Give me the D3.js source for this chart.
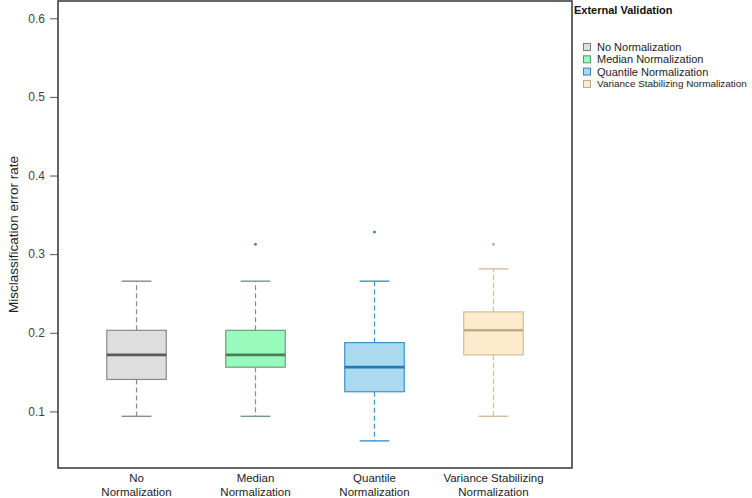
<!DOCTYPE html>
<html><head><meta charset="utf-8">
<script src="https://cdn.jsdelivr.net/npm/d3@7"></script>
<style>body{margin:0;background:#fff}svg{display:block}text{font-family:"Liberation Sans",Arial,sans-serif}</style>
</head><body><svg id="c" width="752" height="498"></svg>
<script>
const categories = ["No Normalization","Median Normalization","Quantile Normalization","Variance Stabilizing Normalization"];
const axisLabels = [["No","Normalization"],["Median","Normalization"],["Quantile","Normalization"],["Variance Stabilizing","Normalization"]];
const whiskerLow = [0.09375,0.09375,0.0625,0.09375];
const q1 = [0.140625,0.15625,0.125,0.171875];
const median = [0.171875,0.171875,0.15625,0.203125];
const q3 = [0.203125,0.203125,0.1875,0.2265625];
const whiskerHigh = [0.265625,0.265625,0.265625,0.28125];
const outliers = [[],[0.3125],[0.328125],[0.3125]];
const yTicks = [0.1,0.2,0.3,0.4,0.5,0.6];
const fills = ["#dedede","#98fbbc","#abd9ef","#fdebcd"];
const strokes = ["#8a8a8a","#6f9c7e","#3a93c8","#d2bd97"];
const medCols = ["#5a5a5a","#4f7a5e","#1f7bb8","#c2ab83"];

const svg = d3.select("#c");
const L=58,R=572,T=1,B=468;
const x = d3.scaleLinear().domain([0.34,4.66]).range([L,R]);
const y = d3.scaleLinear().domain([0.028,0.622]).range([B,T]);
const bw = 0.5*(x(1)-x(0)), cw = bw/2;

const ya = svg.append("g").attr("transform",`translate(${L},0)`)
  .call(d3.axisLeft(y).tickValues(yTicks).tickSize(8).tickPadding(5).tickFormat(d3.format(".1f")));
ya.select(".domain").remove();
ya.selectAll("line").attr("stroke","#555");
ya.selectAll("text").attr("font-size",12).attr("fill","#444").attr("font-family","Liberation Sans, Arial, sans-serif");

svg.append("text").attr("transform",`translate(13,${(T+B)/2}) rotate(-90)`)
  .attr("text-anchor","middle").attr("dominant-baseline","central").attr("font-size",13.5).attr("fill","#222")
  .text("Misclassification error rate");

const g = svg.append("g");
categories.forEach((c,i)=>{
  const cx = x(i+1);
  g.append("line").attr("x1",cx).attr("x2",cx).attr("y1",y(q3[i])).attr("y2",y(whiskerHigh[i]))
    .attr("stroke",strokes[i]).attr("stroke-width",1.2).attr("stroke-dasharray","5,3");
  g.append("line").attr("x1",cx).attr("x2",cx).attr("y1",y(q1[i])).attr("y2",y(whiskerLow[i]))
    .attr("stroke",strokes[i]).attr("stroke-width",1.2).attr("stroke-dasharray","5,3");
  [whiskerHigh[i],whiskerLow[i]].forEach(v=>{
    g.append("line").attr("x1",cx-cw/2).attr("x2",cx+cw/2).attr("y1",y(v)).attr("y2",y(v))
      .attr("stroke",strokes[i]).attr("stroke-width",1.4);
  });
  g.append("rect").attr("x",cx-bw/2).attr("width",bw).attr("y",y(q3[i])).attr("height",y(q1[i])-y(q3[i]))
    .attr("fill",fills[i]).attr("stroke",strokes[i]).attr("stroke-width",1.2);
  g.append("line").attr("x1",cx-bw/2).attr("x2",cx+bw/2).attr("y1",y(median[i])).attr("y2",y(median[i]))
    .attr("stroke",medCols[i]).attr("stroke-width",2.6);
  outliers[i].forEach(v=>{
    g.append("circle").attr("cx",cx).attr("cy",y(v)).attr("r",1.4).attr("fill",medCols[i]);
  });
  const t = svg.append("text").attr("text-anchor","middle").attr("font-size",11.5).attr("fill","#222");
  axisLabels[i].forEach((s,j)=>t.append("tspan").attr("x",cx).attr("y",482+j*14).text(s));
});

svg.append("rect").attr("x",L).attr("y",T).attr("width",R-L).attr("height",B-T)
  .attr("fill","none").attr("stroke","#333").attr("stroke-width",1.5);

const lg = svg.append("g");
lg.append("text").attr("x",574).attr("y",14).attr("font-size",11).attr("font-weight","bold").attr("fill","#111").text("External Validation");
categories.forEach((c,i)=>{
  const yy = 47+i*12.3;
  lg.append("rect").attr("x",583.5).attr("y",yy-3.5).attr("width",7).attr("height",7)
    .attr("fill",fills[i]).attr("stroke",d3.color(strokes[i]).darker(0.3)).attr("stroke-width",1);
  const t = lg.append("text").attr("x",597).attr("y",yy).attr("dominant-baseline","central").attr("font-size",11).attr("fill","#222").text(c);
  const w = t.node().getComputedTextLength();
  if (w > 150) t.attr("font-size", 11*150/w);
});
</script></body></html>
